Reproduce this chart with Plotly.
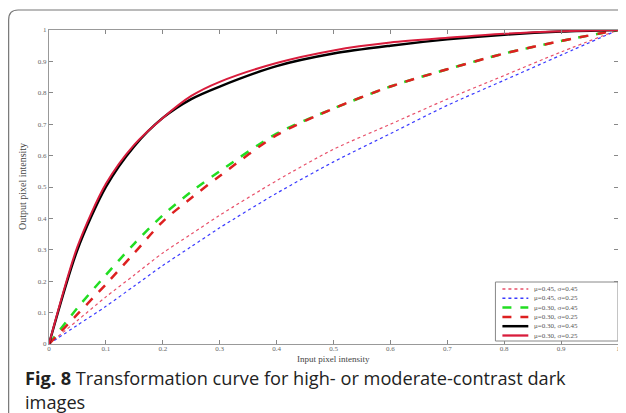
import plotly.graph_objects as go

x_vals = [0, 0.05, 0.1, 0.15, 0.2, 0.25, 0.3, 0.4, 0.5, 0.6, 0.7, 0.8, 0.9, 1.0]

y_m45_s45 = [0, 0.075, 0.15, 0.22, 0.29, 0.35, 0.41, 0.52, 0.62, 0.70, 0.78, 0.855, 0.93, 1.0]
y_m45_s25 = [0, 0.06, 0.12, 0.185, 0.25, 0.31, 0.37, 0.48, 0.58, 0.67, 0.76, 0.84, 0.92, 1.0]
y_m30_s45 = [0, 0.115, 0.22, 0.32, 0.41, 0.485, 0.55, 0.67, 0.75, 0.82, 0.875, 0.925, 0.965, 1.0]
y_m30_s25 = [0, 0.095, 0.19, 0.29, 0.39, 0.465, 0.535, 0.665, 0.75, 0.82, 0.875, 0.925, 0.965, 1.0]
y_m30_s45b = [0, 0.30, 0.50, 0.63, 0.72, 0.78, 0.82, 0.885, 0.925, 0.95, 0.97, 0.985, 0.995, 1.0]
y_m30_s25b = [0, 0.31, 0.51, 0.635, 0.72, 0.79, 0.835, 0.895, 0.935, 0.96, 0.975, 0.988, 0.996, 1.0]

names = ["μ=0.45, σ=0.45", "μ=0.45, σ=0.25", "μ=0.30, σ=0.45",
         "μ=0.30, σ=0.25", "μ=0.30, σ=0.45", "μ=0.30, σ=0.25"]
series = [y_m45_s45, y_m45_s25, y_m30_s45, y_m30_s25, y_m30_s45b, y_m30_s25b]
colors = ["#e8506a", "#3a3aff", "#22dd22", "#dd2020", "#000000", "#d81c3c"]
dashes = ["dot", "dot", "dash", "dash", "solid", "solid"]
widths = [1.2, 1.2, 2.5, 2.5, 2.4, 2.0]

tick_vals = [0, 0.1, 0.2, 0.3, 0.4, 0.5, 0.6, 0.7, 0.8, 0.9, 1]
tick_text = ["0", "0.1", "0.2", "0.3", "0.4", "0.5", "0.6", "0.7", "0.8", "0.9", "1"]

x_title = "Input pixel intensity"
y_title = "Output pixel intensity"
caption_bold = "Fig. 8"
caption_1 = "Transformation curve for high- or moderate-contrast dark"
caption_2 = "images"

fig = go.Figure()
for n, ys, c, d, w in zip(names, series, colors, dashes, widths):
    fig.add_trace(go.Scatter(x=x_vals, y=ys, mode="lines", name=n, showlegend=False,
                             line=dict(color=c, dash=d, width=w, shape="spline", smoothing=0.8)))

# page has an 8px body margin; figure coordinates = page coordinates - 8
OFF = 8
W, H = 618, 405
L, R, T, B = 49, 620, 30, 344   # plot area in page pixels


def px(x):
    return (x - L) / (R - L)


def py(y):
    return (B - y) / (B - T)


axis_common = dict(range=[0, 1], tickvals=tick_vals, ticktext=tick_text,
                   ticks="inside", ticklen=4, tickcolor="#888", showline=True,
                   linecolor="#999", linewidth=1, mirror="ticks", showgrid=False,
                   zeroline=False, tickfont=dict(family="Liberation Serif", size=7, color="#666"))

fig.update_layout(
    width=W, height=H,
    margin=dict(l=L - OFF, r=W - (R - OFF), t=T - OFF, b=H - (B - OFF)),
    paper_bgcolor="white", plot_bgcolor="white",
    xaxis=dict(**axis_common, ticklabelstandoff=-2),
    yaxis=dict(**axis_common),
    showlegend=False,
)

# card border (rounded top-left corner)
path = (f"M {px(8.5)},{py(430)} L {px(8.5)},{py(20)} "
        f"Q {px(8.5)},{py(10)} {px(18)},{py(10)} L {px(640)},{py(10)}")
fig.add_shape(type="path", path=path, xref="paper", yref="paper",
              line=dict(color="#777", width=1.2), layer="below")

# axis titles
fig.add_annotation(text=x_title, xref="paper", yref="paper", x=0.5, y=py(358.5),
                   xanchor="center", yanchor="middle", showarrow=False,
                   font=dict(family="Liberation Serif", size=9, color="#444"))
fig.add_annotation(text=y_title, xref="paper", yref="paper", x=px(22), y=0.5,
                   xanchor="center", yanchor="middle", showarrow=False, textangle=-90,
                   font=dict(family="Liberation Serif", size=10, color="#444"))

# compact legend box
LX0, LX1, LY0, LY1 = 497, 620, 282, 341
fig.add_shape(type="rect", xref="paper", yref="paper",
              x0=px(LX0), x1=px(LX1), y0=py(LY1), y1=py(LY0),
              line=dict(color="#888", width=1), fillcolor="white", layer="above")
for i, (n, c, d, w) in enumerate(zip(names, colors, dashes, widths)):
    yy = 289 + i * 9.3
    fig.add_shape(type="line", xref="paper", yref="paper",
                  x0=px(504), x1=px(530), y0=py(yy), y1=py(yy),
                  line=dict(color=c, dash=d, width=min(w + 0.3, 2.5)), layer="above")
    fig.add_annotation(text=n, xref="paper", yref="paper", x=px(534), y=py(yy),
                       xanchor="left", yanchor="middle", showarrow=False,
                       font=dict(family="Liberation Serif", size=7, color="#555"))

# caption (two lines in one text block)
fig.add_annotation(text=f"<b>{caption_bold}</b> {caption_1}<br>{caption_2}",
                   xref="paper", yref="paper", x=px(23), y=py(389.5), xanchor="left",
                   yanchor="middle", align="left", showarrow=False,
                   font=dict(family="Open Sans", size=18.2, color="#222"))

fig.write_html("out.html")
